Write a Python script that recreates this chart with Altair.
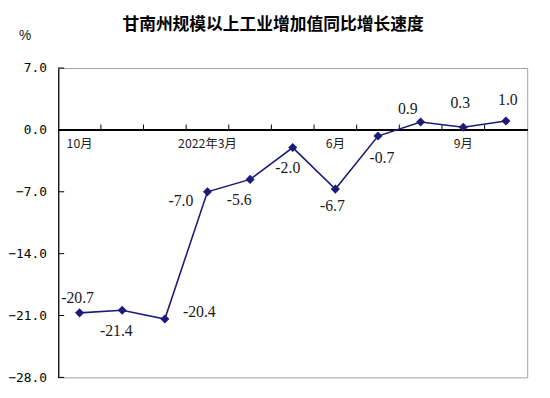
import altair as alt
import pandas as pd

# ---- data ----
months = ["10月", "11月", "12月", "2022年3月", "4月", "5月", "6月", "7月", "8月", "9月", "10月"]
values = [-20.7, -20.4, -21.4, -7.0, -5.6, -2.0, -6.7, -0.7, 0.9, 0.3, 1.0]
label_texts = ["-20.7", "-21.4", "-20.4", "-7.0", "-5.6", "-2.0", "-6.7", "-0.7", "0.9", "0.3", "1.0"]
month_label_shown = [True, False, False, True, False, False, True, False, False, True, False]
y_ticks = [7.0, 0.0, -7.0, -14.0, -21.0, -28.0]

# ---- style: pixel offsets of the data labels ----
label_offsets = [(-2, -15), (-6, 21), (35, -7), (-27, 9), (-11, 21), (-5, 21),
                 (-3, 17), (4, 22), (-13, -13), (-3, -25), (2, -21)]

df = pd.DataFrame({
    "idx": list(range(len(values))),
    "month": months,
    "value": values,
    "label": label_texts,
    "show": month_label_shown,
})
tick_df = pd.DataFrame({"pos": [i + 0.5 for i in range(len(values) - 1)]})
ytick_df = pd.DataFrame({"value": y_ticks})

NAVY = "#1c1c78"

x_scale = alt.Scale(domain=[-0.5, len(values) - 0.5], nice=False, zero=False)
x_enc = alt.X("idx:Q", scale=x_scale, axis=None)
y_scale = alt.Scale(domain=[-28, 7], nice=False, zero=False)
y_axis = alt.Axis(values=y_ticks, format=".1f", ticks=False, grid=False, domainColor="black",
                  domainWidth=1.2, labelFont="DejaVu Sans Mono", labelFontSize=13, labelColor="black",
                  labelPadding=12, title="%", titleAngle=0, titleX=-34, titleY=-33,
                  titleAlign="center", titleBaseline="middle", titleFont="Liberation Sans",
                  titleFontSize=14, titleFontWeight="normal", titleColor="#222")
y_enc = alt.Y("value:Q", scale=y_scale, axis=y_axis)

base = alt.Chart(df)

zero_line = alt.Chart(df).mark_rule(color="black", strokeWidth=1.3).encode(y=alt.datum(0))
x_ticks = alt.Chart(tick_df).mark_rule(color="black", strokeWidth=1).encode(
    x=alt.X("pos:Q", scale=x_scale, axis=None),
    y=alt.datum(0), y2=alt.datum(0.6))
y_inner_ticks = alt.Chart(ytick_df).mark_rule(color="black", strokeWidth=1).encode(
    y=y_enc, x=alt.value(0), x2=alt.value(6))

line = base.mark_line(color=NAVY, strokeWidth=1.6).encode(x=x_enc, y=y_enc)
pts = base.mark_point(shape="diamond", filled=True, opacity=1, color=NAVY, size=85).encode(x=x_enc, y=y_enc)

month_text = base.transform_filter("datum.show").mark_text(
    font="Noto Sans CJK SC", fontSize=12.5, color="#222", dy=14).encode(
    x=x_enc, y=alt.datum(0), text="month:N")

label_layers = []
for i, (dx, dy) in enumerate(label_offsets):
    label_layers.append(
        base.transform_filter(f"datum.idx == {i}").mark_text(
            font="Liberation Serif", fontSize=16, color="#1a1a1a", dx=dx, dy=dy).encode(
            x=x_enc, y=y_enc, text="label:N"))

chart = alt.layer(y_inner_ticks, zero_line, x_ticks, line, pts, month_text, *label_layers).properties(
    width=476, height=314,
    padding={"left": 51, "top": 58, "right": 15, "bottom": 18},
    autosize="none",
    title=alt.Title("甘南州规模以上工业增加值同比增长速度", font="Noto Sans CJK SC", fontSize=17,
                    fontWeight="bold", color="black", dx=-20, offset=-22, frame="group",
                    baseline="bottom"),
).configure_view(stroke="#a0a0a0", strokeWidth=1)

chart.save("out.html", embed_options={"renderer": "svg", "actions": False})
